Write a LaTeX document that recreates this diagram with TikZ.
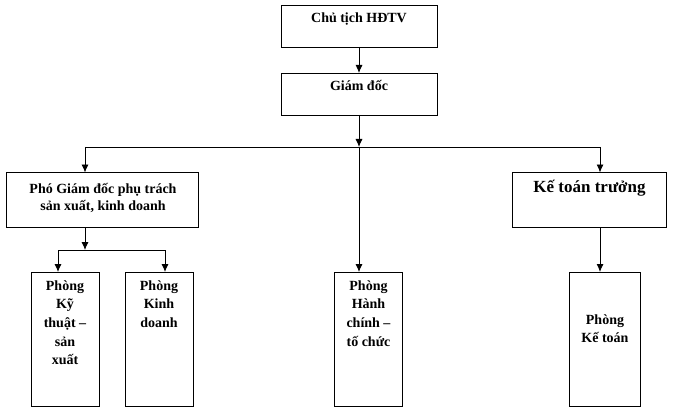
\documentclass[tikz,border=0pt]{standalone}
\usepackage{fontspec}
\setmainfont{Liberation Serif}
\usetikzlibrary{arrows.meta}
\begin{document}
\begin{tikzpicture}[x=1pt,y=-1pt,
  box/.style={draw, line width=0.9pt, inner sep=0pt, outer sep=0pt, anchor=north west},
  lbl/.style={inner sep=0pt, anchor=base, align=center, font=\bfseries\fontsize{14}{18.7}\selectfont},
  big/.style={inner sep=0pt, anchor=base, align=center, font=\bfseries\fontsize{17}{20}\selectfont},
  conn/.style={line width=0.9pt},
  arr/.style={line width=0.9pt, -{Latex[length=8pt,width=7pt]}}]
\useasboundingbox (0,0) rectangle (673,412);
% boxes
\node[box, minimum width=156pt, minimum height=42pt] (ct) at (281,5) {};
\node[box, minimum width=156pt, minimum height=42pt] (gd) at (281,73) {};
\node[box, minimum width=192pt, minimum height=54.5pt] (pg) at (6,172.5) {};
\node[box, minimum width=153.5pt, minimum height=54.5pt] (kt) at (512.5,172.5) {};
\node[box, minimum width=68pt, minimum height=134.5pt] (p1) at (31,272) {};
\node[box, minimum width=68pt, minimum height=134.5pt] (p2) at (125,272) {};
\node[box, minimum width=68pt, minimum height=134.5pt] (p3) at (334.5,272) {};
\node[box, minimum width=71pt, minimum height=134.5pt] (p4) at (569.5,272) {};
% labels (base anchor = baseline of the last line)
\node[lbl] (ctT) at (359,22.5) {Chủ tịch HĐTV};
\node[lbl] (gdT) at (359,90.5) {Giám đốc};
\node[lbl, font=\bfseries\fontsize{14}{17.5}\selectfont] (pgT) at (103,211) {Phó Giám đốc phụ trách\\sản xuất, kinh doanh};
\node[big] (ktT) at (589.5,192) {Kế toán trưởng};
\node[lbl] (p1T) at (65,364.8) {Phòng\\Kỹ\\thuật –\\sản\\xuất};
\node[lbl] (p2T) at (159,327.4) {Phòng\\Kinh\\doanh};
\node[lbl] (p3T) at (368.5,346.1) {Phòng\\Hành\\chính –\\tố chức};
\node[lbl] (p4T) at (605,342.7) {Phòng\\Kế toán};
% junctions
\coordinate (j1) at (359,147);
\coordinate (jL) at (85,147);
\coordinate (jR) at (600,147);
\coordinate (j2) at (85,250);
\coordinate (j2L) at (58,250);
\coordinate (j2R) at (165,250);
% connectors
\draw[arr] (ct) -- (gd);
\draw[arr] (gd.south) -- (j1);
\draw[conn] (jL) -- (jR);
\draw[arr] (jL) -- (jL |- pg.north);
\draw[arr] (jR) -- (jR |- kt.north);
\draw[arr] (j1) -- (j1 |- p3.north);
\draw[arr] (pg.south -| j2) -- (j2);
\draw[conn] (j2L) -- (j2R);
\draw[arr] (j2L) -- (j2L |- p1.north);
\draw[arr] (j2R) -- (j2R |- p2.north);
\draw[arr] (kt.south -| jR) -- (jR |- p4.north);
\end{tikzpicture}
\end{document}
